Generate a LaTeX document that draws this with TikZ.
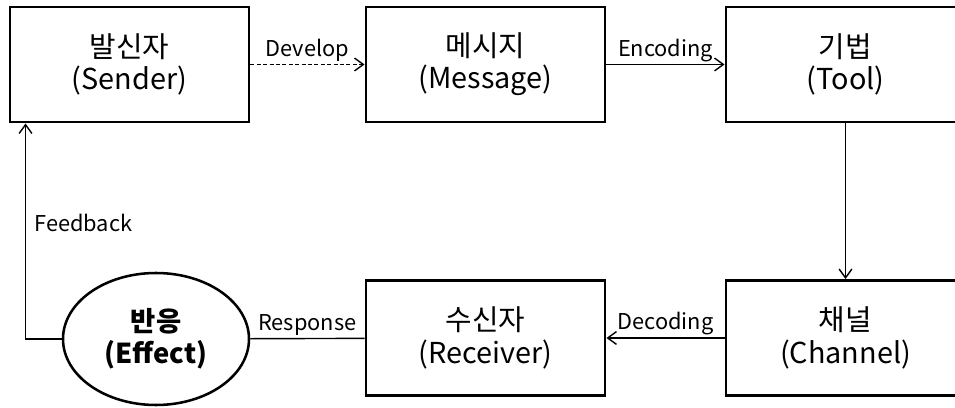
\documentclass[tikz,border=0pt]{standalone}
\usepackage{fontspec}
\setmainfont{Noto Sans CJK KR}
\usepackage{tikz}
\usetikzlibrary{
  shapes.geometric,
  arrows.meta,
  positioning
}

\begin{document}
\begin{tikzpicture}[
  stage/.style={rectangle, draw=black, line width=2.1pt, minimum width=5.975cm, minimum height=2.875cm, font=\fontsize{20.5}{23}\selectfont, align=center},
  effectnode/.style={ellipse, draw=black, line width=1.8pt, minimum width=4.65cm, minimum height=3.3cm, font=\fontsize{19.5}{23}\selectfont\bfseries, align=center},
  lbl/.style={font=\fontsize{15.5}{17}\selectfont, inner sep=1.5pt},
  flow/.style={-{Straight Barb[length=2.2mm, width=3.2mm]}, line width=1pt},
  link/.style={line width=1pt}
]
  \useasboundingbox (0,0) rectangle (23.875,-10.2);
  \clip (0,0) rectangle (23.875,-10.2);

  % Row 1
  \node[stage] (sender) at (3.2375,-1.6125) {발신자\\(Sender)};
  \node[stage] (message) at (12.1375,-1.6125) {메시지\\(Message)};
  \node[stage] (tool) at (21.1375,-1.6125) {기법\\(Tool)};

  % Row 2
  \node[effectnode] (effect) at (3.9,-8.475) {반응\\(Effect)};
  \node[stage] (receiver) at (12.1375,-8.45) {수신자\\(Receiver)};
  \node[stage] (channel) at (21.1375,-8.45) {채널\\(Channel)};

  % Connectors
  \draw[flow, dash pattern=on 1mm off 0.6mm] (sender) -- node[lbl, above] {Develop} (message);
  \draw[flow] (message) -- node[lbl, above] {Encoding} (tool);
  \draw[flow] (tool) -- (channel);
  \draw[flow] (channel) -- node[lbl, above] {Decoding} (receiver);
  \draw[link] (receiver) -- node[lbl, above] {Response} (effect);
  \draw[flow] (effect.west) -| node[lbl, pos=0.77, right=0.15cm] {Feedback} ([xshift=0.425cm]sender.south west);
\end{tikzpicture}
\end{document}
